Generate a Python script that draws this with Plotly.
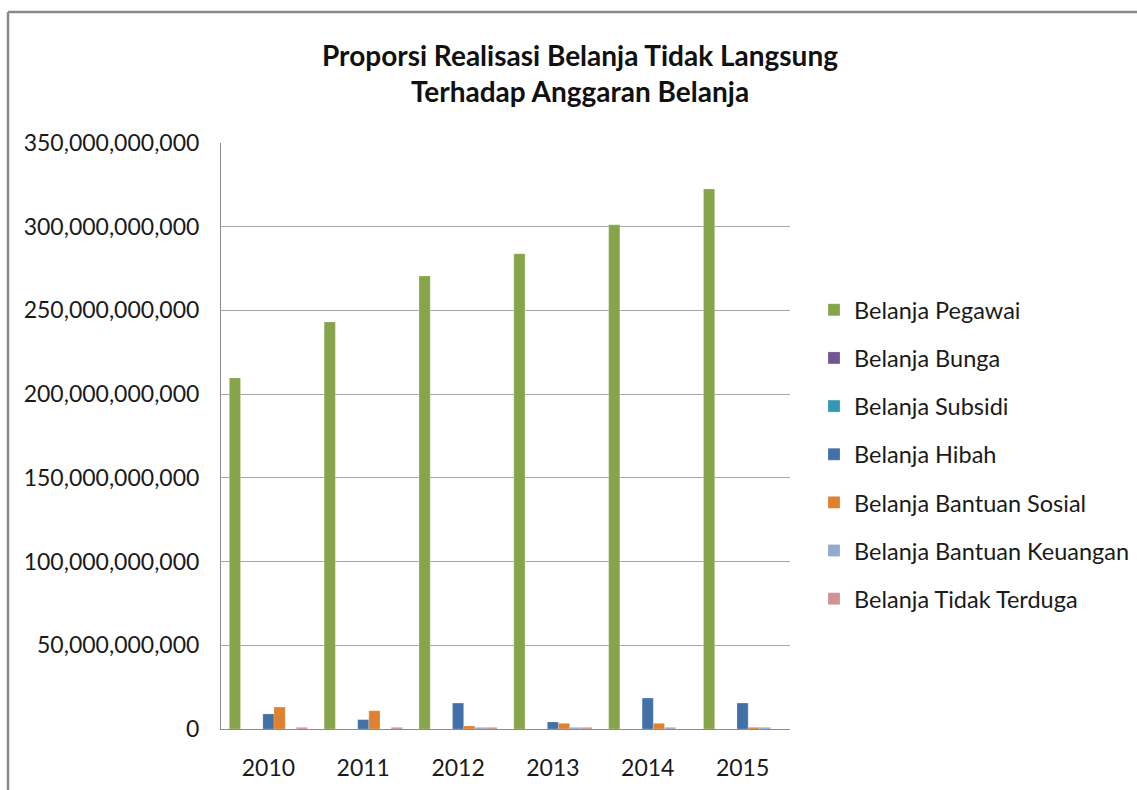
import plotly.graph_objects as go

years = ["2010", "2011", "2012", "2013", "2014", "2015"]

belanja_pegawai = [209.7e9, 243.1e9, 270.6e9, 283.8e9, 301.1e9, 322.6e9]
belanja_bunga = [0, 0, 0, 0, 0, 0]
belanja_subsidi = [0, 0, 0, 0, 0, 0]
belanja_hibah = [9.0e9, 5.6e9, 15.5e9, 4.2e9, 18.5e9, 15.5e9]
belanja_bantuan_sosial = [13.1e9, 10.9e9, 1.8e9, 3.4e9, 3.4e9, 1.0e9]
belanja_bantuan_keuangan = [0, 0, 1.0e9, 1.0e9, 1.0e9, 1.0e9]
belanja_tidak_terduga = [1.0e9, 1.0e9, 1.0e9, 1.0e9, 0, 0]

series_names = [
    "Belanja Pegawai",
    "Belanja Bunga",
    "Belanja Subsidi",
    "Belanja Hibah",
    "Belanja Bantuan Sosial",
    "Belanja Bantuan Keuangan",
    "Belanja Tidak Terduga",
]
series_values = [
    belanja_pegawai,
    belanja_bunga,
    belanja_subsidi,
    belanja_hibah,
    belanja_bantuan_sosial,
    belanja_bantuan_keuangan,
    belanja_tidak_terduga,
]
series_colors = ["#86A44A", "#6F5591", "#3398B0", "#4271A8", "#E0812F", "#93A9CF", "#D19392"]

y_tickvals = [0, 50e9, 100e9, 150e9, 200e9, 250e9, 300e9, 350e9]
y_ticktext = ["0", "50,000,000,000", "100,000,000,000", "150,000,000,000",
              "200,000,000,000", "250,000,000,000", "300,000,000,000", "350,000,000,000"]

FONT = "Lato"
TICK_SIZE = 23

fig = go.Figure()
for name, vals, col in zip(series_names, series_values, series_colors):
    fig.add_trace(go.Bar(
        x=years, y=vals, name=name, legendgroup=name,
        marker=dict(color=col, line=dict(color="rgba(255,255,255,0.35)", width=0.6)),
    ))

# plot area in pixels: x 221..790, y 143..729
L, R, T, B = 221, 790, 143, 729
W, H = 1137, 790
pw, ph = R - L, B - T

def px_x(x):
    return (x - L) / pw

def px_y(y):
    return (B - y) / ph

fig.update_layout(
    width=W, height=H,
    margin=dict(l=L, r=W - R, t=T, b=H - B, pad=0, autoexpand=False),
    paper_bgcolor="white", plot_bgcolor="white",
    barmode="group", bargap=0.176, bargroupgap=0,
    font=dict(family=FONT, size=TICK_SIZE, color="#1a1a1a"),
    title=dict(
        text="<b>Proporsi Realisasi Belanja Tidak Langsung<br>Terhadap Anggaran Belanja</b>",
        x=px_x(580), xref="paper", xanchor="center",
        y=1 - 66 / H, yref="container", yanchor="middle",
        font=dict(family=FONT, size=28, color="#111111"),
    ),
    showlegend=True,
    legend=dict(
        x=px_x(814), xanchor="left", y=px_y(288), yanchor="top",
        font=dict(family=FONT, size=23.5, color="#1a1a1a"),
        traceorder="grouped", tracegroupgap=14.6,
        itemwidth=30, bgcolor="rgba(0,0,0,0)",
    ),
    xaxis=dict(
        showline=True, linecolor="#8c8c8c", linewidth=1,
        ticks="", showgrid=False, tickfont=dict(size=TICK_SIZE),
        ticklabelstandoff=18,
    ),
    yaxis=dict(
        range=[0, 350e9], tickvals=y_tickvals, ticktext=y_ticktext,
        showline=True, linecolor="#8c8c8c", linewidth=1,
        showgrid=True, gridcolor="#a6a6a6", gridwidth=1,
        zeroline=False, ticks="", tickfont=dict(size=TICK_SIZE),
        ticklabelstandoff=16,
    ),
    shapes=[
        dict(type="line", xref="paper", yref="paper",
             x0=px_x(8), x1=px_x(8), y0=px_y(12), y1=px_y(800),
             line=dict(color="#8a8a8a", width=2.5)),
        dict(type="line", xref="paper", yref="paper",
             x0=px_x(8), x1=px_x(1145), y0=px_y(12), y1=px_y(12),
             line=dict(color="#8a8a8a", width=2.5)),
    ],
)

fig.write_html("out.html")
